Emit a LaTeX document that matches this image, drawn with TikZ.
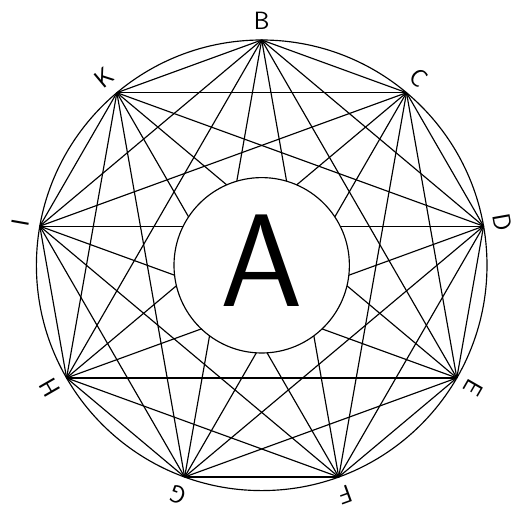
\documentclass[tikz,border=0pt]{standalone}
\tikzset{
  edge/.style={line width=1.15pt},
  ring/.style={circle, draw, line width=1.15pt, inner sep=0pt},
  lab/.style={inner sep=0pt, font=\sffamily\fontsize{25}{25}\selectfont}
}
\begin{document}
\begin{tikzpicture}[x=1pt,y=1pt]
\useasboundingbox (-261.7,-242.7) rectangle (253.3,265.3);
\def\R{225.3}
\coordinate (O) at (0,0);
\foreach \n/\name/\a in {1/B/90,2/C/50,3/D/10,4/E/-30,5/F/-70,6/G/-110,7/H/-150,8/I/170,9/K/130}{
  \coordinate (p\n) at (\a:\R);
  \node[lab, rotate=\a-90] (L\n) at (\a:244.5) {\name};
}
\foreach \i in {1,...,8}{
  \pgfmathtruncatemacro\s{\i+1}
  \foreach \j in {\s,...,9}{
    \draw[edge] (p\i) -- (p\j);
  }
}
\node[ring, minimum size=2*\R pt] (outer) at (O) {};
\node[ring, fill=white, minimum size=175.4pt] (inner) at (O) {};
\node[inner sep=0pt, font=\sffamily\fontsize{132}{132}\selectfont] (A) at (0,4.5) {A};
\end{tikzpicture}
\end{document}
